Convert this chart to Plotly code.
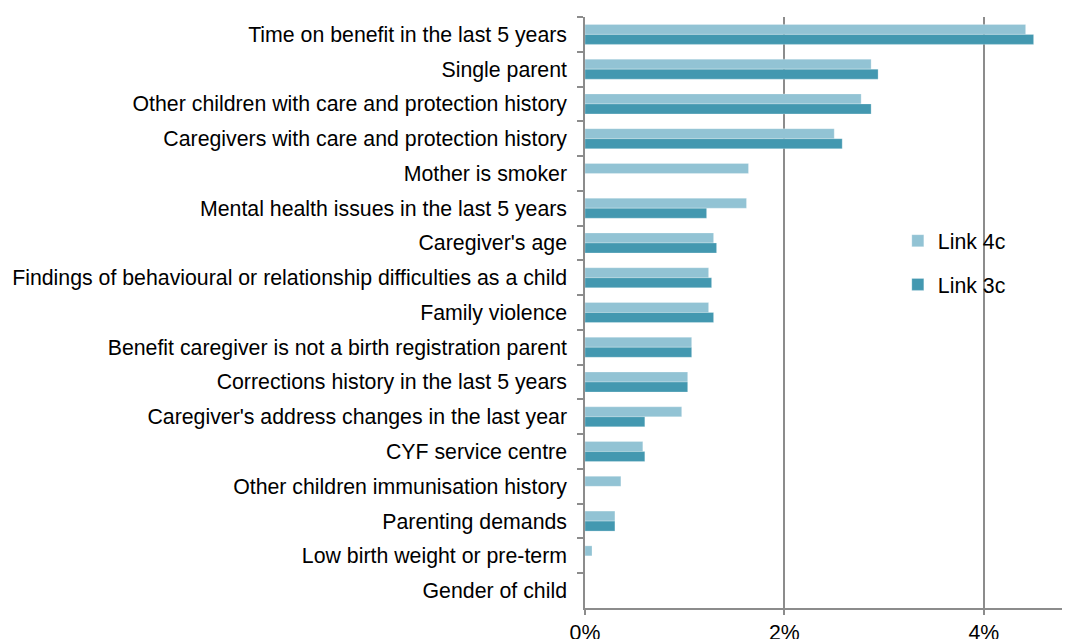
import plotly.graph_objects as go

categories = [
    "Time on benefit in the last 5 years",
    "Single parent",
    "Other children with care and protection history",
    "Caregivers with care and protection history",
    "Mother is smoker",
    "Mental health issues in the last 5 years",
    "Caregiver's age",
    "Findings of behavioural or relationship difficulties as a child",
    "Family violence",
    "Benefit caregiver is not a birth registration parent",
    "Corrections history in the last 5 years",
    "Caregiver's address changes in the last year",
    "CYF service centre",
    "Other children immunisation history",
    "Parenting demands",
    "Low birth weight or pre-term",
    "Gender of child",
]

link_4c = [4.42, 2.87, 2.77, 2.50, 1.64, 1.62, 1.29, 1.24, 1.24, 1.07, 1.03, 0.97, 0.58, 0.36, 0.30, 0.07, 0.0]
link_3c = [4.50, 2.94, 2.87, 2.58, None, 1.22, 1.32, 1.27, 1.29, 1.07, 1.03, 0.60, 0.60, None, 0.30, None, 0.0]

x_ticks = [0, 2, 4]
x_tick_labels = ["0%", "2%", "4%"]

FONT = "Liberation Sans, Arial, sans-serif"
FS = 21.3
fig = go.Figure()
fig.add_trace(go.Bar(y=categories, x=link_4c, orientation="h", name="Link 4c",
                     marker=dict(color="#92c3d4", line=dict(color="rgba(255,255,255,0.5)", width=0.5)),
                     legendgroup="a"))
fig.add_trace(go.Bar(y=categories, x=link_3c, orientation="h", name="Link 3c",
                     marker=dict(color="#4398b0", line=dict(color="rgba(255,255,255,0.5)", width=0.5)),
                     legendgroup="b"))

fig.update_layout(
    width=1062, height=631,
    margin=dict(l=577, r=0, t=9, b=31),
    paper_bgcolor="white", plot_bgcolor="white",
    barmode="group", bargap=0.425, bargroupgap=0,
    font=dict(family=FONT, size=FS, color="black"),
    legend=dict(x=0.645, y=0.584, xanchor="left", yanchor="middle",
                font=dict(size=FS), tracegroupgap=13, traceorder="grouped",
                bgcolor="rgba(0,0,0,0)"),
    showlegend=True,
)
fig.update_xaxes(range=[0, 4.865], tickvals=x_ticks, ticktext=x_tick_labels,
                 showgrid=True, gridcolor="#8c8c8c", gridwidth=1.5,
                 showline=True, linecolor="#8c8c8c", linewidth=1.5,
                 ticks="outside", ticklen=5, tickcolor="#8c8c8c", tickwidth=1.5,
                 zeroline=False, tickfont=dict(size=FS), automargin=False)
fig.update_yaxes(autorange="reversed", showline=True, linecolor="#8c8c8c", linewidth=1.5,
                 ticks="outside", ticklen=6, tickcolor="#8c8c8c", tickwidth=1.5,
                 tickson="boundaries", showgrid=False, ticklabelstandoff=12,
                 automargin=False)

fig.write_html("out.html")
